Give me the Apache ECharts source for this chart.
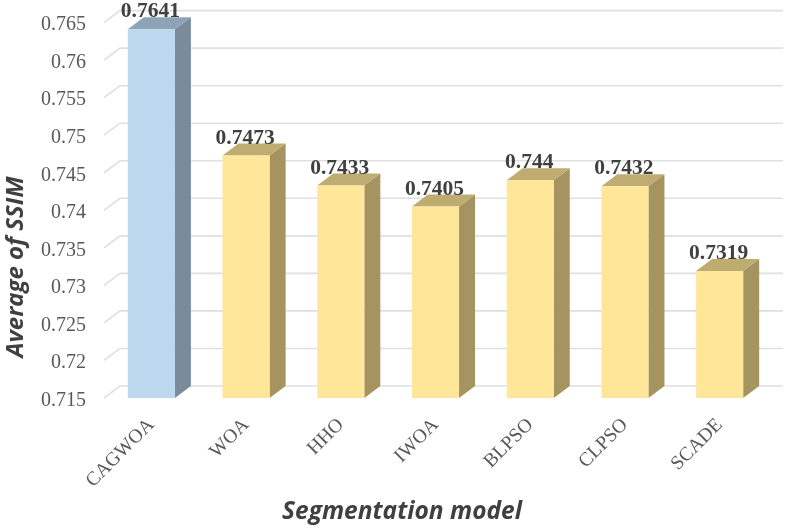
<!DOCTYPE html>
<html><head><meta charset="utf-8">
<style>html,body{margin:0;padding:0;background:#fff}#c{width:786px;height:530px}</style>
<script src="https://cdn.jsdelivr.net/npm/echarts@6/dist/echarts.min.js"></script>
</head><body><div id="c"></div>
<script>
const categories = ['CAGWOA','WOA','HHO','IWOA','BLPSO','CLPSO','SCADE'];
const values = [0.7641,0.7473,0.7433,0.7405,0.744,0.7432,0.7319];
const yTicks = [0.715,0.72,0.725,0.73,0.735,0.74,0.745,0.75,0.755,0.76,0.765];
const yTitle = 'Average of SSIM';
const xTitle = 'Segmentation model';
const DX = 16, DY = 12, BAR_FRAC = 0.497;
const palette = {
  blue:{front:'#BDD7EE',side:'#7A8B9B',top:'#8FA3B7'},
  yellow:{front:'#FFE699',side:'#A5945F',top:'#BFAC70'}
};
const titleStyle = {align:'center',verticalAlign:'middle',fontFamily:'Open Sans',fontWeight:'bold',fontStyle:'italic',fill:'#404040'};
const chart = echarts.init(document.getElementById('c'));
chart.setOption({
  animation:false,
  backgroundColor:'#fff',
  grid:{left:104,right:19,top:22.6,bottom:132,outerBoundsMode:'none'},
  graphic:[
    {type:'text',x:16,y:267,rotation:Math.PI/2,style:{...titleStyle,text:yTitle,fontSize:24}},
    {type:'text',x:402,y:512,style:{...titleStyle,text:xTitle,fontSize:24.5}}
  ],
  xAxis:{type:'category',data:categories,
    axisLine:{show:false},axisTick:{show:false},splitLine:{show:false},
    axisLabel:{rotate:45,margin:24,color:'#595959',fontFamily:'Liberation Serif',fontSize:19.5,interval:0}},
  yAxis:{type:'value',min:0.715,max:0.765,interval:0.005,
    axisLine:{show:false},axisTick:{show:false},splitLine:{show:false},
    axisLabel:{margin:18,color:'#595959',fontFamily:'Liberation Serif',fontSize:20,verticalAlign:'top',lineHeight:5,
      formatter:v=>String(+v.toFixed(3))}},
  series:[
    {type:'custom',silent:true,z:1,coordinateSystem:'cartesian2d',
     data:yTicks.map(v=>[0,v]),
     encode:{x:0,y:1},
     clip:false,
     renderItem(params,api){
       const y=api.coord([0,api.value(1)])[1];
       const cs=params.coordSys;
       return {type:'polyline',shape:{points:[[cs.x,y],[cs.x+DX,y-DY],[cs.x+cs.width+DX,y-DY]]},
         style:{fill:null,stroke:'#E0E0E0',lineWidth:1.6}};
     }},
    {type:'custom',z:2,clip:false,
     data:values.map((v,i)=>[i,v]),
     encode:{x:0,y:1},
     renderItem(params,api){
       const v=api.value(1);
       const p=api.coord([api.value(0),v]);
       const base=api.coord([api.value(0),0.715]);
       const w=api.size([1,0])[0]*BAR_FRAC;
       const l=p[0]-w/2,r=p[0]+w/2,t=p[1],b=base[1];
       const c=params.dataIndex===0?palette.blue:palette.yellow;
       return {type:'group',children:[
         {type:'polygon',shape:{points:[[r,t],[r+DX,t-DY],[r+DX,b-DY],[r,b]]},style:{fill:c.side}},
         {type:'polygon',shape:{points:[[l,t],[l+DX,t-DY],[r+DX,t-DY],[r,t]]},style:{fill:c.top}},
         {type:'rect',shape:{x:l,y:t,width:w,height:b-t},style:{fill:c.front}},
         {type:'text',style:{text:String(v),x:p[0]-1,y:t-17.5,align:'center',verticalAlign:'middle',
           fontFamily:'Liberation Serif',fontWeight:'bold',fontSize:21.5,fill:'#404040'}}
       ]};
     }}
  ]
});
</script></body></html>
